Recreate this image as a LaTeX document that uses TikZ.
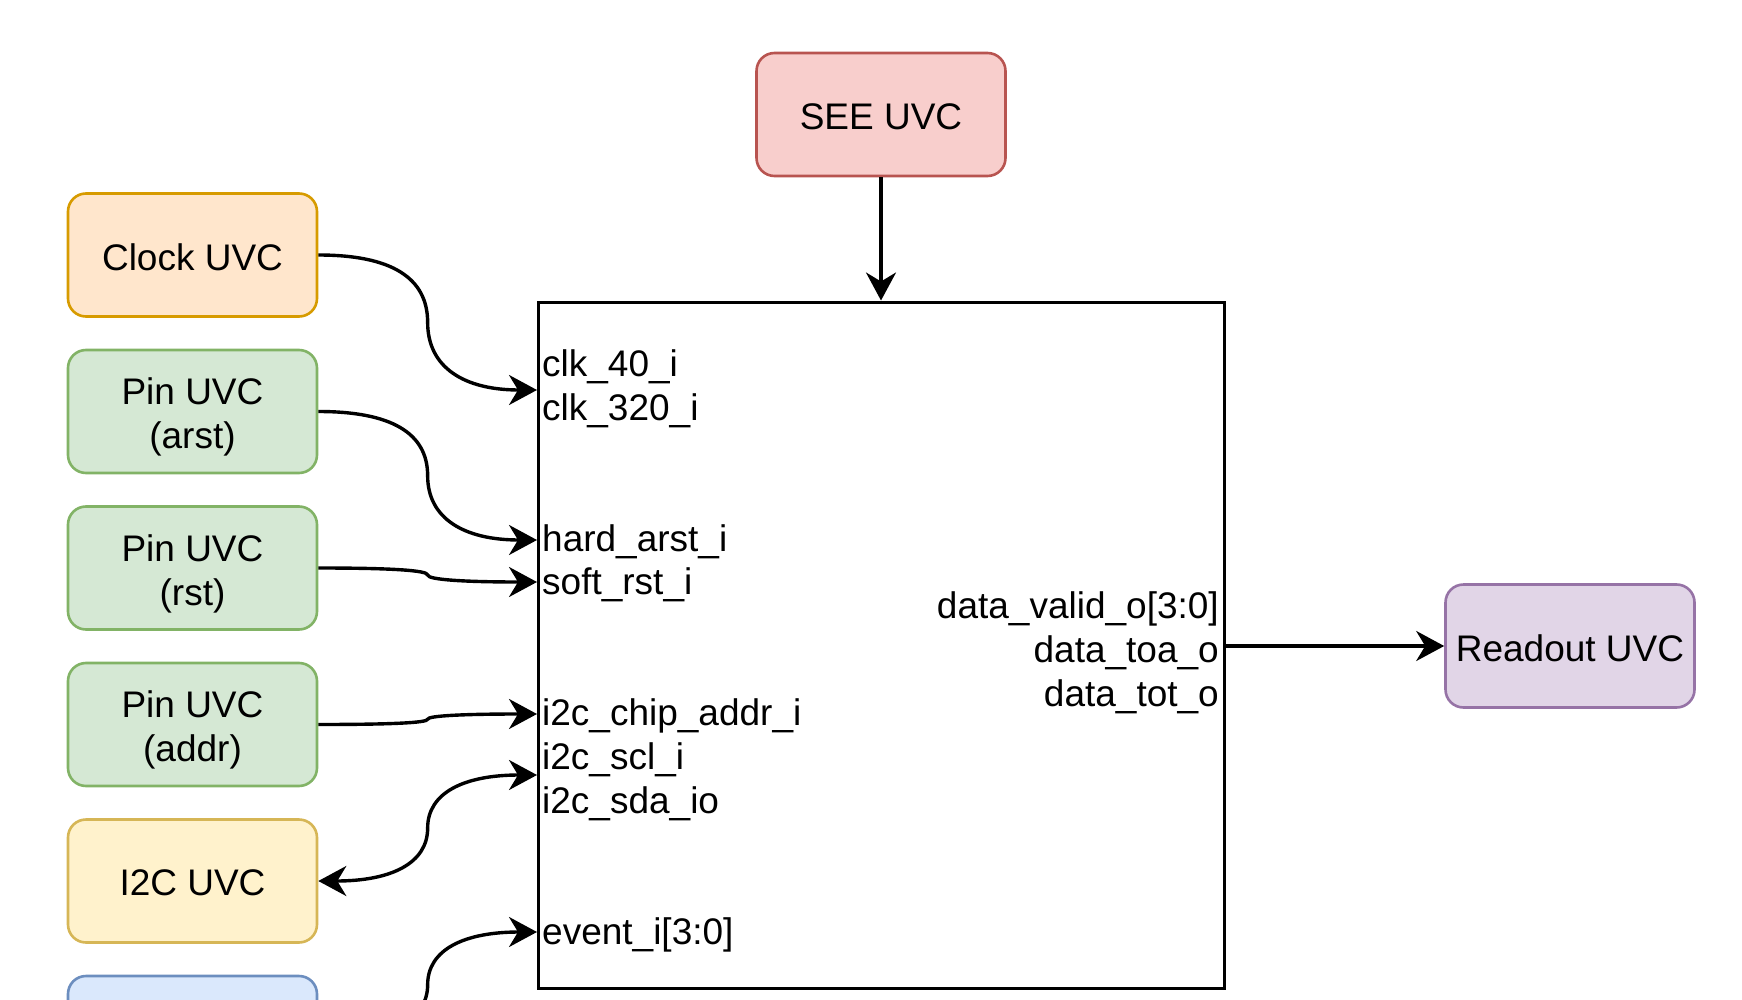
\documentclass[tikz,border=0pt]{standalone}
\usepackage{fontspec}
\setmainfont{Liberation Sans}
\usetikzlibrary{arrows.meta,calc}

\definecolor{clockfill}{HTML}{FFE6CC}
\definecolor{clockline}{HTML}{D79B00}
\definecolor{pinfill}{HTML}{D5E8D4}
\definecolor{pinline}{HTML}{82B366}
\definecolor{ifill}{HTML}{FFF2CC}
\definecolor{iline}{HTML}{D6B656}
\definecolor{seefill}{HTML}{F8CECC}
\definecolor{seeline}{HTML}{B85450}
\definecolor{rdfill}{HTML}{E1D5E7}
\definecolor{rdline}{HTML}{9673A6}
\definecolor{evfill}{HTML}{DAE8FC}
\definecolor{evline}{HTML}{6C8EBF}

\begin{document}
\begin{tikzpicture}[x=1pt,y=-1pt,
  font=\fontsize{37}{44}\selectfont,
  uvc/.style={draw, rounded corners=18pt, line width=2.6pt,
    minimum width=249pt, minimum height=123pt, inner sep=0pt},
  oneline/.style={align=center, inner sep=0pt, yshift=-2pt},
  twoline/.style={align=center, inner sep=0pt, yshift=-5.5pt},
  dutbox/.style={draw, line width=3pt, minimum width=686pt,
    minimum height=686pt, inner sep=0pt},
  inport/.style={anchor=base west, inner sep=0pt},
  outport/.style={anchor=base east, inner sep=0pt},
  tip/.tip={Stealth[length=28pt,width=30pt,inset=9pt]},
  link/.style={line width=3.4pt, -tip},
  bend link/.style={to path={
    let \p1=(\tikztostart), \p2=(\tikztotarget),
        \n1={0.5*(\x1+\x2)}, \n2={0.5*(\y1+\y2)} in
    .. controls ({\x1+(2/3)*(\n1-\x1)}, \y1) and ({\n1*1pt}, {\n2+(2/3)*(\y1-\n2)})
    .. ({\n1*1pt}, {\n2*1pt})
    .. controls ({\n1*1pt}, {\n2+(2/3)*(\y2-\n2)}) and ({\x2+(2/3)*(\n1-\x2)}, \y2)
    .. (\tikztotarget)}}
]
\path[use as bounding box] (0,0) rectangle (1742,1000);
\clip (0,0) rectangle (1742,1000);

% verification components
\node[uvc, fill=seefill, draw=seeline] (see) at (881,114.5) {};
\node[uvc, fill=clockfill, draw=clockline] (clk) at (192.5,255) {};
\node[uvc, fill=pinfill, draw=pinline] (arst) at (192.5,411.5) {};
\node[uvc, fill=pinfill, draw=pinline] (rst) at (192.5,568) {};
\node[uvc, fill=pinfill, draw=pinline] (addr) at (192.5,724.5) {};
\node[uvc, fill=ifill, draw=iline] (i2c) at (192.5,881) {};
\node[uvc, fill=evfill, draw=evline] (evt) at (192.5,1037.5) {};
\node[uvc, fill=rdfill, draw=rdline] (rd) at (1570,646) {};

% their captions
\node[oneline] (seeT) at (see.center) {SEE UVC};
\node[oneline] (clkT) at (clk.center) {Clock UVC};
\node[twoline] (arstT) at (arst.center) {Pin UVC\\(arst)};
\node[twoline] (rstT) at (rst.center) {Pin UVC\\(rst)};
\node[twoline] (addrT) at (addr.center) {Pin UVC\\(addr)};
\node[oneline] (i2cT) at (i2c.center) {I2C UVC};
\node[oneline] (rdT) at (rd.center) {Readout UVC};

% device under test
\node[dutbox] (dut) at (881,645) {};

% port pins on the device edge
\coordinate (pclk) at (537,390);
\coordinate (parst) at (537,540);
\coordinate (prst) at (537,582);
\coordinate (paddr) at (537,714);
\coordinate (pscl) at (537,775);
\coordinate (pevt) at (537,932);
\coordinate (pout) at (1225,646);

% port labels
\node[inport] (l1) at (542,376) {clk\_40\_i};
\node[inport] (l2) at (542,420) {clk\_320\_i};
\node[inport] (l3) at (542,551) {hard\_arst\_i};
\node[inport] (l4) at (542,594) {soft\_rst\_i};
\node[inport] (l5) at (542,725) {i2c\_chip\_addr\_i};
\node[inport] (l6) at (542,769) {i2c\_scl\_i};
\node[inport] (l7) at (542,813) {i2c\_sda\_io};
\node[inport] (l8) at (542,944) {event\_i[3:0]};
\node[outport] (r1) at (1219,618) {data\_valid\_o[3:0]};
\node[outport] (r2) at (1219,662) {data\_toa\_o};
\node[outport] (r3) at (1219,706) {data\_tot\_o};

% connections
\draw[link] (see.south) -- (dut.north);
\draw[link] (clk.east) to[bend link] (pclk);
\draw[link] (arst.east) to[bend link] (parst);
\draw[link] (rst.east) to[bend link] (prst);
\draw[link] (addr.east) to[bend link] (paddr);
\draw[link, tip-tip] (i2c.east) to[bend link] (pscl);
\draw[link] (evt.east) to[bend link] (pevt);
\draw[link] (pout) -- (rd.west);
\end{tikzpicture}
\end{document}
